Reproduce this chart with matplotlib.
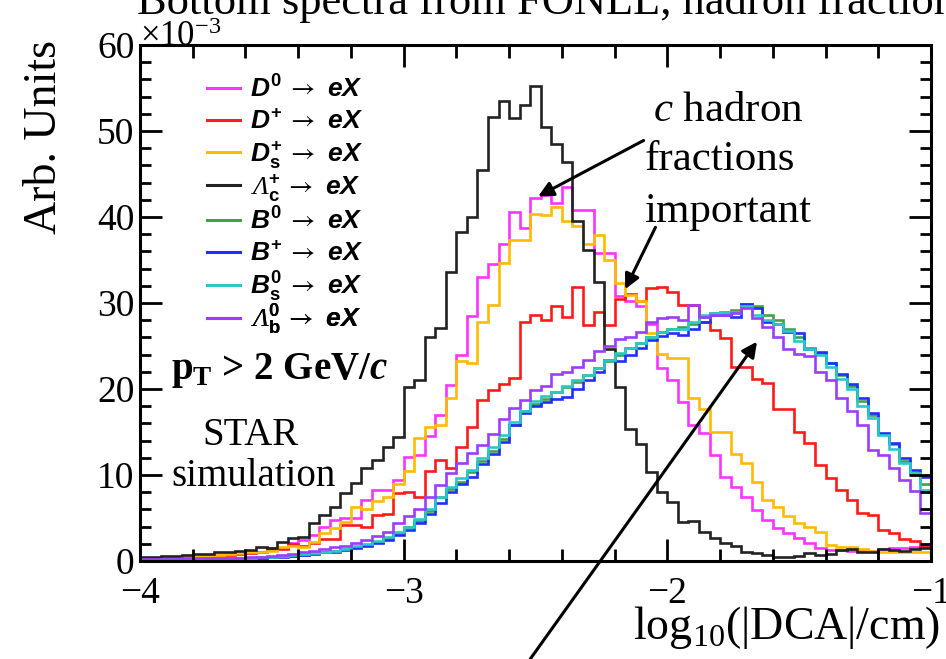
import numpy as np
import matplotlib.pyplot as plt
from matplotlib.lines import Line2D
from matplotlib.ticker import MultipleLocator

plt.rcParams["font.family"] = ["Liberation Serif", "DejaVu Serif"]
plt.rcParams["mathtext.fontset"] = "custom"
plt.rcParams["mathtext.rm"] = "Liberation Sans:bold"
plt.rcParams["mathtext.it"] = "Liberation Sans:italic:bold"
plt.rcParams["mathtext.bf"] = "Liberation Serif:bold"
plt.rcParams["mathtext.cal"] = "Liberation Serif:italic"
plt.rcParams["mathtext.tt"] = "Liberation Serif:bold:italic"
plt.rcParams["mathtext.sf"] = "STIXGeneral"
plt.rcParams["mathtext.fallback"] = "stix"
plt.rcParams["axes.unicode_minus"] = True

# histogram binning in log10(|DCA|/cm)
x_lo, x_hi, n_bins = -4.0, -1.0, 75

# bin contents, units of 1e-3
d0 = [0.3, 0.3, 0.4, 0.4, 0.5, 0.5, 0.6, 0.7, 0.8, 0.9, 1.0, 1.1, 1.3, 1.5, 2.1,
      2.4, 3.0, 4.0, 4.8, 5.0, 5.0, 7.1, 8.3, 8.3, 9.4, 12.1, 12.3, 14.5, 17.0,
      20.5, 24.0, 28.5, 33.0, 34.5, 36.9, 40.6, 38.7, 42.2, 42.6, 41.6, 43.5,
      40.8, 40.8, 35.8, 35.8, 30.8, 30.2, 29.6, 27.6, 22.4, 21.1, 18.5,
      15.8, 14.9, 12.3, 9.8, 8.6, 7.5, 5.9, 4.8, 3.8, 3.2, 2.7, 2.1, 1.5, 1.3,
      1.3, 1.2, 1.3, 1.2, 1.4, 1.5, 1.5, 1.6, 1.7]
dplus = [0.3, 0.3, 0.3, 0.4, 0.4, 0.5, 0.5, 0.6, 0.7, 0.8, 0.9, 1.1, 1.5, 1.4, 2.0,
         1.7, 2.1, 2.6, 2.6, 4.2, 4.2, 4.0, 5.3, 5.5, 7.9, 8.0, 7.5, 10.5, 11.7,
         10.8, 13.3, 15.6, 18.7, 19.9, 20.6, 21.3, 27.8, 28.6, 28.0, 29.6, 28.4,
         31.9, 27.4, 29.0, 27.4, 30.5, 31.1, 30.2, 31.7, 31.9, 31.3, 29.8,
         29.8, 27.8, 26.9, 25.9, 22.6, 22.6, 21.2, 20.7, 17.7, 17.7, 15.0, 13.7,
         11.2, 9.6, 8.3, 7.1, 5.6, 5.4, 3.6, 3.2, 2.6, 2.3, 1.9]
ds = [0.4, 0.4, 0.4, 0.5, 0.5, 0.6, 0.6, 0.7, 0.8, 0.9, 1.0, 1.0, 1.2, 1.6, 1.7,
      1.6, 2.2, 3.2, 3.8, 4.5, 6.3, 6.0, 7.0, 7.5, 9.0, 10.5, 14.3, 15.6, 15.8,
      19.0, 23.2, 23.0, 27.8, 29.8, 34.6, 37.3, 37.3, 40.4, 40.2, 41.2, 39.5,
      38.9, 36.9, 37.9, 35.0, 32.3, 30.9, 30.2, 26.5, 24.1, 23.6, 23.6,
      18.9, 17.7, 15.0, 15.0, 12.5, 11.4, 9.2, 7.1, 6.3, 5.2, 4.4, 4.0, 3.4,
      1.9, 1.6, 1.6, 1.4, 1.2, 1.0, 1.0, 1.0, 1.0, 1.0]
lambda_c = [0.5, 0.5, 0.6, 0.6, 0.7, 0.8, 0.8, 1.0, 1.0, 1.2, 1.3, 1.6, 1.5, 2.2, 2.7,
            2.8, 4.4, 5.3, 6.3, 7.9, 9.1, 10.8, 11.7, 13.3, 14.4, 20.2, 21.0, 26.0,
            27.1, 33.6, 38.3, 40.0, 45.5, 51.6,
            53.5, 51.5, 53.0, 55.2, 50.5, 48.5, 46.4,
            39.5, 36.2, 32.5, 24.7, 20.2, 15.3, 13.6, 10.3, 8.0, 6.9, 4.5,
            4.6, 3.4, 2.7, 2.1, 1.7, 1.1, 0.9, 0.7, 0.5, 0.5, 0.6, 0.9, 0.7, 0.8,
            1.3, 1.4, 1.0, 1.1, 1.4, 1.3, 1.2, 1.4, 1.5]
b0 = [0.1, 0.1, 0.2, 0.2, 0.2, 0.2, 0.3, 0.3, 0.3, 0.3, 0.4, 0.4, 0.5, 0.6, 0.6,
      0.7, 0.9, 1.0, 1.2, 1.4, 1.6, 1.9, 2.2, 2.7, 3.2, 3.9, 4.7, 5.8, 7.4, 8.4,
      9.2, 10.4, 11.6, 12.8,
      14.2, 15.8, 17.4, 18.2, 18.8, 19.6, 20.2, 20.8, 21.6, 22.4, 23.2, 24.0,
      24.8, 25.4, 26.0, 26.6, 27.0,
      27.2, 27.6, 28.4, 28.8, 29.0, 29.2, 29.9, 29.6, 28.6, 28.0, 27.0, 26.0,
      24.8, 24.2, 23.0, 21.6, 20.4, 18.6, 17.0, 14.8, 13.6, 11.6, 10.2, 8.9]
bplus = [0.1, 0.1, 0.1, 0.2, 0.2, 0.2, 0.2, 0.3, 0.3, 0.3, 0.4, 0.4, 0.5, 0.5, 0.6,
         0.7, 0.8, 1.0, 1.1, 1.3, 1.5, 1.8, 2.1, 2.5, 3.0, 3.6, 4.4, 5.5, 6.8, 8.0,
         8.9, 9.8, 11.3, 12.5,
         13.8, 15.8, 17.2, 18.0, 18.5, 18.8, 19.1, 20.0, 21.1, 22.0, 23.4, 23.2,
         24.0, 24.8, 25.7, 26.2, 26.5,
         26.3, 27.0, 27.8, 28.6, 28.6, 28.4, 29.9, 29.4, 27.8, 27.6, 26.6, 26.5,
         24.7, 24.3, 23.0, 21.8, 20.6, 18.9, 17.2, 14.9, 13.7, 12.0, 10.6, 9.8]
bs = [0.1, 0.1, 0.2, 0.2, 0.2, 0.2, 0.3, 0.3, 0.3, 0.4, 0.4, 0.5, 0.5, 0.6, 0.7,
      0.8, 0.9, 1.1, 1.2, 1.4, 1.7, 2.0, 2.3, 2.8, 3.4, 4.0, 4.9, 6.0, 7.4, 8.6,
      9.6, 10.6, 12.0, 13.3,
      14.6, 16.2, 17.5, 18.6, 19.2, 19.6, 20.4, 21.0, 21.6, 22.4, 23.4, 24.2,
      24.8, 25.4, 26.0, 26.6, 27.0,
      27.0, 27.8, 28.6, 28.8, 29.0, 29.0, 29.6, 28.6, 28.0, 27.6, 26.8, 25.6,
      24.6, 24.0, 22.6, 21.2, 20.0, 18.0, 16.6, 14.6, 13.0, 11.4, 10.2, 8.3]
lambda_b = [0.2, 0.2, 0.2, 0.2, 0.3, 0.3, 0.3, 0.3, 0.4, 0.4, 0.5, 0.5, 0.6, 0.7, 0.8,
            1.0, 1.2, 1.4, 1.6, 1.8, 2.1, 2.5, 2.9, 3.4, 4.4, 5.2, 6.1, 7.5, 8.8,
            10.2, 11.4, 12.6, 13.5, 14.8,
            16.5, 17.8, 18.7, 19.9, 20.3, 21.8, 22.0, 22.6, 23.4, 24.4, 25.0, 25.8,
            26.0, 26.6, 27.8, 28.2, 28.4,
            28.0, 29.8, 28.4, 28.6, 28.6, 28.8, 29.4, 28.2, 27.2, 26.0, 24.7, 24.1,
            23.8, 22.0, 21.0, 18.9, 17.4, 15.8, 12.9, 12.3, 10.8, 9.4, 8.1, 5.6]

series = [d0, dplus, ds, lambda_c, b0, bplus, bs, lambda_b]
labels = [
    r"$D^{0}\,\mathsf{\rightarrow}\ eX$",
    r"$D^{+}\,\mathsf{\rightarrow}\ eX$",
    r"$D_{\mathrm{s}}^{+}\,\mathsf{\rightarrow}\ eX$",
    r"$\mathcal{\Lambda}_{\mathrm{c}}^{+}\,\mathsf{\rightarrow}\ eX$",
    r"$B^{0}\,\mathsf{\rightarrow}\ eX$",
    r"$B^{+}\,\mathsf{\rightarrow}\ eX$",
    r"$B_{\mathrm{s}}^{0}\,\mathsf{\rightarrow}\ eX$",
    r"$\mathcal{\Lambda}_{\mathrm{b}}^{0}\,\mathsf{\rightarrow}\ eX$",
]
colors = ["#ff33ff", "#ff1a1a", "#ffbb00", "#222222",
          "#44a044", "#1f2fff", "#2cc8c8", "#9b3dff"]

edges = np.linspace(x_lo, x_hi, n_bins + 1)

fig = plt.figure(figsize=(9.46, 6.59), dpi=100)
ax = fig.add_axes([140 / 946, 98 / 659, 791 / 946, 516 / 659])

for vals, col in zip(series, colors):
    ax.stairs(vals, edges, color=col, lw=1.9, baseline=None)

ax.set_xlim(-4, -1)
ax.set_ylim(0, 60)
ax.xaxis.set_major_locator(MultipleLocator(1))
ax.xaxis.set_minor_locator(MultipleLocator(0.2))
ax.yaxis.set_major_locator(MultipleLocator(10))
ax.yaxis.set_minor_locator(MultipleLocator(2))
ax.tick_params(which="both", direction="in", top=True, right=True, width=2.0,
               labelsize=27)
ax.tick_params(axis="x", which="major", length=16, pad=11)
ax.tick_params(axis="x", which="minor", length=9)
ax.tick_params(axis="y", which="major", length=16, pad=4)
ax.tick_params(axis="y", which="minor", length=8)
for sp in ax.spines.values():
    sp.set_linewidth(2.2)

# one legend row per species, rows 33 px apart as in the ROOT legend
row_top, row_step = 0.915, 33 / 516
for i, (lab, col) in enumerate(zip(labels, colors)):
    leg = ax.legend([Line2D([], [], color=col, lw=2.2)], [lab],
                    loc="center left", bbox_to_anchor=(0.0847, row_top - i * row_step),
                    frameon=False, fontsize=19, handlelength=1.25,
                    handletextpad=0.38, borderaxespad=0, borderpad=0)
    ax.add_artist(leg)

ax.text(-3.47, 22.2, r"$\mathbf{p}_{\mathbf{T}}$ > 2 GeV/$\mathtt{c}$",
        fontsize=28, fontweight="bold", ha="center", va="center")
ax.text(-3.58, 14.6, "STAR", fontsize=28, ha="center", va="center")
ax.text(-3.57, 9.8, "simulation", fontsize=28, ha="center", va="center")

ax.text(-1.77, 52.4, r"$\mathcal{c}$ hadron", fontsize=31, ha="center", va="center")
ax.text(-1.80, 46.6, "fractions", fontsize=31, ha="center", va="center")
ax.text(-1.77, 40.6, "important", fontsize=31, ha="center", va="center")

arrow = dict(arrowstyle="-|>,head_length=0.9,head_width=0.45", color="black",
             lw=2.2, shrinkA=0, shrinkB=0)
ax.annotate("", xy=(-2.49, 42.4), xytext=(-2.09, 48.9), arrowprops=arrow)
ax.annotate("", xy=(-2.16, 31.6), xytext=(-2.045, 38.8), arrowprops=arrow)
ax.annotate("", xy=(-1.66, 25.5), xytext=(-2.52, -11.4), arrowprops=arrow,
            annotation_clip=False)

fig.text(137 / 946, 1 - 14 / 659, "Bottom spectra from FONLL, hadron fractions",
         fontsize=32, ha="left", va="baseline")
fig.text(140 / 946, 1 - 46 / 659, r"$\mathregular{\times10^{-3}}$", fontsize=25,
         ha="left", va="baseline")
fig.text(45 / 946, 1 - 40 / 659, "Arb. Units", fontsize=33, rotation=90,
         ha="center", va="top")
fig.text(940 / 946, 1 - 639 / 659, r"log$_{\mathregular{10}}$(|DCA|/cm)",
         fontsize=33, ha="right", va="baseline")

fig.savefig("out.png", dpi=100)
